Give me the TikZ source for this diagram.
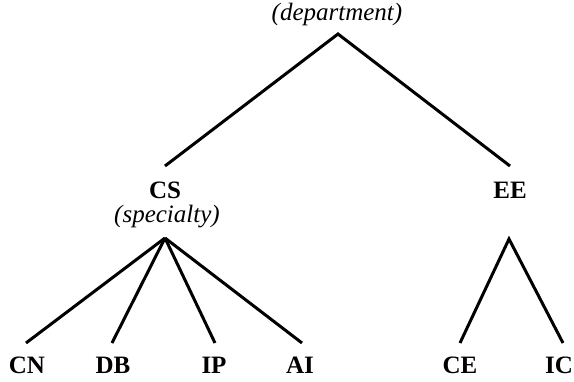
\documentclass[tikz,border=0pt]{standalone}
\usepackage{fontspec}
\setmainfont{Liberation Serif}
\begin{document}
\begin{tikzpicture}[x=1pt,y=-1pt, font=\fontsize{25}{30}\selectfont]
\tikzset{lbl/.style={inner sep=0pt, font=\fontsize{25}{30}\selectfont\bfseries},
         tag/.style={inner sep=0pt, font=\fontsize{25}{30}\selectfont\itshape},
         edge/.style={line width=3pt}}
\useasboundingbox (0,0) rectangle (574,381);

%\draw[help lines, color=gray!30] (0,0) grid[step=50] (574,381);
\node[tag] (dept) at (337,14) {(department)};
\node[lbl] (cs) at (165,190) {CS};
\node[tag] (spec) at (167,217) {(specialty)};
\node[lbl] (ee) at (510,190) {EE};
\node[lbl] (cn) at (27,365) {CN};
\node[lbl] (db) at (113,365) {DB};
\node[lbl] (ip) at (214,365) {IP};
\node[lbl] (ai) at (300,365) {AI};
\node[lbl] (ce) at (460,365) {CE};
\node[lbl] (ic) at (559,365) {IC};

\coordinate (top) at (338,34);
\coordinate (csup) at (165,166);
\coordinate (eeup) at (510,166);
\coordinate (csdn) at (165,238);
\coordinate (eedn) at (509,239);
\coordinate (cnup) at (26,343);
\coordinate (dbup) at (112,343);
\coordinate (ipup) at (215,343);
\coordinate (aiup) at (302,343);
\coordinate (ceup) at (460,343);
\coordinate (icup) at (563,343);

\draw[edge] (csup) -- (top) -- (eeup);
\draw[edge] (csdn) -- (cnup);
\draw[edge] (csdn) -- (dbup);
\draw[edge] (csdn) -- (ipup);
\draw[edge] (csdn) -- (aiup);
\draw[edge] (ceup) -- (eedn) -- (icup);
\end{tikzpicture}
\end{document}
